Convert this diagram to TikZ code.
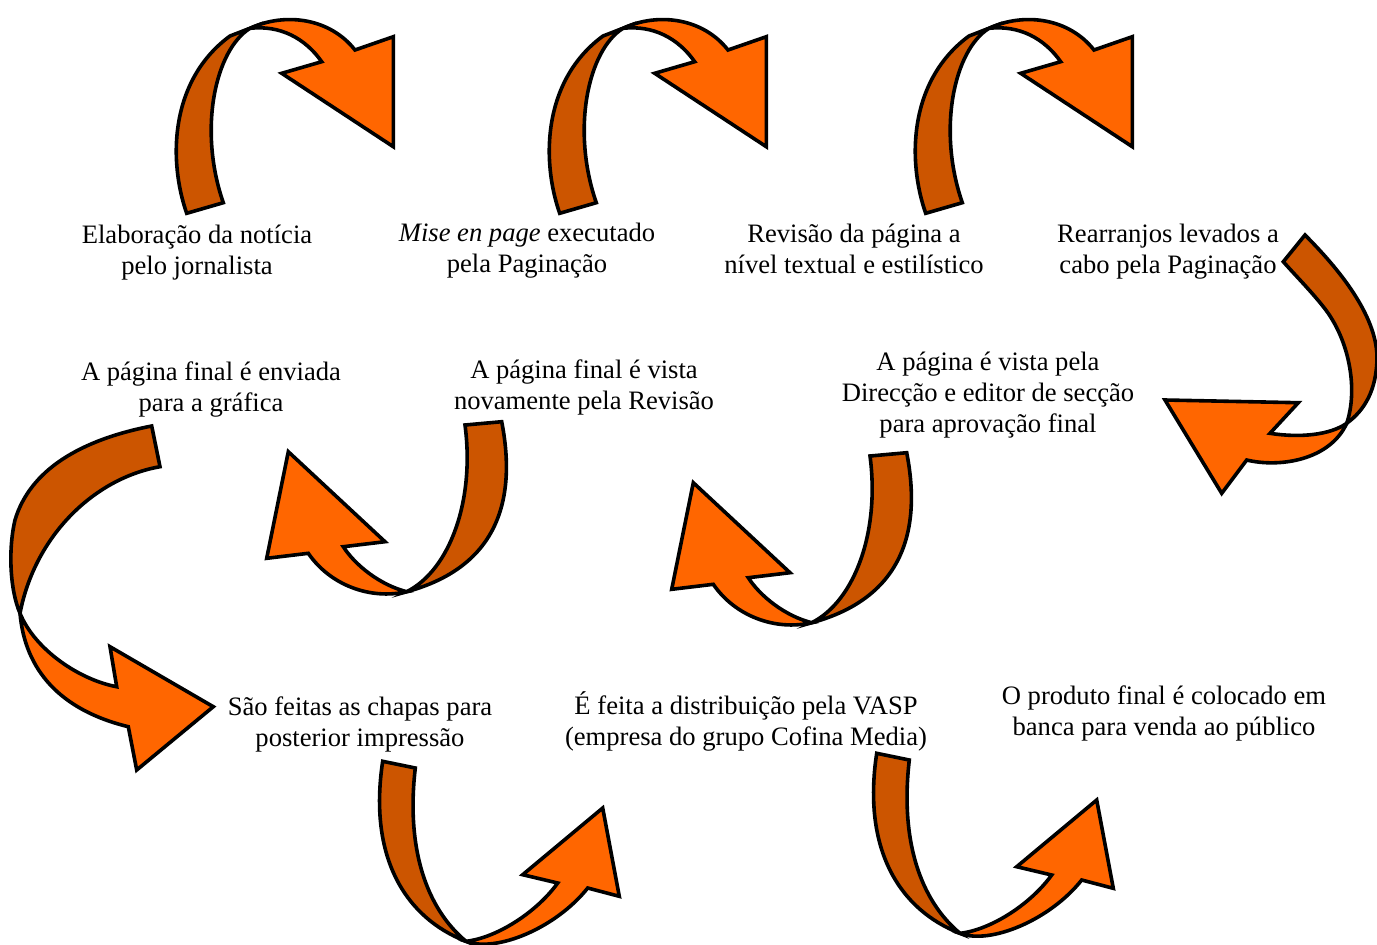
\documentclass[tikz,border=0pt]{standalone}
\usepackage{fontspec}
\setmainfont{Liberation Serif}
\definecolor{laranja}{RGB}{255,102,0}
\definecolor{castanho}{RGB}{204,85,0}

\begin{document}
\begin{tikzpicture}[x=0.5pt, y=-0.5pt,
  contorno/.style={draw=black, line width=1.8pt},
  texto/.style={align=center, inner sep=0pt, font=\fontsize{13.3}{15.5}\selectfont},
  seta topo/.pic={
    \filldraw [contorno] [fill=castanho] (186.7, 213.3) .. controls (168, 160) and (170, 80) .. (230, 36) -- (250, 28.3)
      .. controls (215, 50) and (198, 130) .. (223.3, 202.7) -- cycle;
    \filldraw [contorno] [fill=laranja] (250, 28.3) .. controls (285, 12) and (330, 18) .. (355, 50) -- (393.3, 36.7)
      -- (393.3, 146.7) -- (281.7, 73.3) -- (321.7, 61.7) .. controls (305, 38) and (280, 25) .. (250, 28.3) -- cycle;
  },
  seta volta/.pic={
    \filldraw [contorno] [fill=castanho] (465, 425) -- (501.7, 421.7) .. controls (515, 490) and (505, 565) .. (406.7, 591.7)
      .. controls (450, 570) and (475, 500) .. (465, 425) -- cycle;
    \filldraw [contorno] [fill=laranja] (406.7, 591.7) .. controls (370, 600) and (330, 585) .. (308.3, 553.3) -- (266.7, 558.3)
      -- (288.3, 451.7) -- (385, 541.7) -- (343.3, 546.7) .. controls (355, 565) and (380, 585) .. (406.7, 591.7) -- cycle;
  },
  seta baixo/.pic={
    \filldraw [contorno] [fill=castanho] (876.7, 753.3) -- (909.3, 760) .. controls (900, 840) and (920, 900) .. (960, 933.3)
      .. controls (900, 910) and (862, 850) .. (876.7, 753.3) -- cycle;
    \filldraw [contorno] [fill=laranja] (960, 933.3) .. controls (990, 945) and (1050, 920) .. (1081.7, 880) -- (1113.3, 888.3)
      -- (1096.7, 800) -- (1016.7, 866.7) -- (1051.7, 875) .. controls (1030, 905) and (990, 930) .. (960, 933.3) -- cycle;
  }]
\useasboundingbox (0, 0) rectangle (1377, 944);

% textos
\node [texto] (elaboracao) at (197, 253) {Elaboração da notícia\\pelo jornalista};
\node [texto] (mise) at (527, 251) {\textit{Mise en page} executado\\pela Paginação};
\node [texto] (revisao) at (854, 249) {Revisão da página a\\nível textual e estilístico};
\node [texto] (rearranjos) at (1168, 252) {Rearranjos levados a\\cabo pela Paginação};
\node [texto] (direccao) at (988, 395) {A página é vista pela\\Direcção e editor de secção\\para aprovação final};
\node [texto] (novamente) at (584, 387) {A página final é vista\\novamente pela Revisão};
\node [texto] (grafica) at (211, 389) {A página final é enviada\\para a gráfica};
\node [texto] (chapas) at (360, 724) {São feitas as chapas para\\posterior impressão};
\node [texto] (vasp) at (746, 721) {É feita a distribuição pela VASP\\(empresa do grupo Cofina Media)};
\node [texto] (banca) at (1164, 713) {O produto final é colocado em\\banca para venda ao público};

% setas de cima
\pic at (0, 0) {seta topo};
\pic at (373, 0) {seta topo};
\pic at (739, 0) {seta topo};

% seta da direita
\filldraw [contorno] [fill=castanho] (1283.3, 261.7) -- (1305, 235) .. controls (1345, 275) and (1378, 320) .. (1377, 360)
  .. controls (1376, 390) and (1365, 410) .. (1346.7, 423.3) .. controls (1358, 390) and (1350, 340) .. (1323.3, 306.7)
  .. controls (1310, 290) and (1295, 275) .. (1283.3, 261.7) -- cycle;
\filldraw [contorno] [fill=laranja] (1346.7, 423.3) .. controls (1330, 435) and (1300, 438) .. (1270, 433.3) -- (1298.3, 402.7)
  -- (1165, 400) -- (1221.7, 493.3) -- (1246.7, 460) .. controls (1280, 468) and (1330, 460) .. (1346.7, 423.3) -- cycle;

% setas do meio
\pic at (0, 0) {seta volta};
\pic at (405, 31) {seta volta};

% seta da esquerda
\filldraw [contorno] [fill=castanho] (151.7, 426) -- (160, 466.7) .. controls (95, 478) and (35, 535) .. (20, 613.3)
  .. controls (10, 590) and (8, 550) .. (15, 520) .. controls (30, 470) and (80, 440) .. (151.7, 426) -- cycle;
\filldraw [contorno] [fill=laranja] (20, 613.3) .. controls (35, 650) and (80, 680) .. (116.7, 686.7) -- (110, 646.7)
  -- (213.3, 706.7) -- (136.7, 770) -- (128.3, 726.7) .. controls (60, 710) and (25, 670) .. (20, 613.3) -- cycle;

% setas de baixo
\pic at (-494, 8) {seta baixo};
\pic at (0, 0) {seta baixo};
\end{tikzpicture}
\end{document}
